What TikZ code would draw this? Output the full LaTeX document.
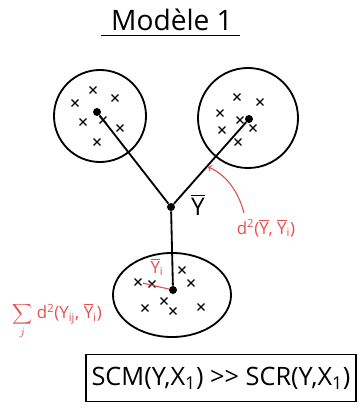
\documentclass[tikz,border=0pt]{standalone}
\usepackage{fontspec}
\setmainfont{Open Sans}
\usetikzlibrary{shapes.geometric,shapes.misc}
\definecolor{inkred}{RGB}{232,78,78}
\newcommand{\ymean}{$\overline{\mbox{Y}}$}
\tikzset{
  dot/.style={circle, fill=black, inner sep=0pt, minimum size=0.2cm},
  cluster/.style={circle, draw, line width=1.3pt, inner sep=0pt},
  pt/.style={cross out, draw, line width=0.9pt, inner sep=0pt, minimum size=0.14cm},
  link/.style={line width=1.3pt},
  dev/.style={inkred, line width=0.8pt, shorten >=1pt},
}

\begin{document}
\begin{tikzpicture}[x=0.025cm, y=-0.025cm]
  \useasboundingbox (0,0) rectangle (359,411);
  % title
  \node[inner sep=1pt] (title) at (172,20) {\fontsize{20}{24}\selectfont Modèle 1};
  \draw[line width=1.2pt] ([xshift=-6pt,yshift=-2pt]title.south west) -- ([xshift=4pt,yshift=-2pt]title.south east);

  % groups
  \node[cluster, minimum size=2.3cm] (c1) at (100,116) {};
  \node[cluster, minimum size=2.5cm] (c2) at (248,118) {};
  \node[cluster, ellipse, minimum width=2.95cm, minimum height=2.1cm] (c3) at (172,295) {};

  \node[dot] (g1) at (97,112) {};
  \node[dot] (g2) at (249,119) {};
  \node[dot] (g3) at (173,290) {};
  \node[dot] (y) at (171,207) {};
  \node (ylab) at (198,205) {\LARGE\ymean};

  \draw[link] (g1) -- (y) -- (g2);
  \draw[link] (y) -- (g3);

  % individuals
  \foreach \n/\x/\y in {a1/93/90, a2/115/98, a3/75/103, a4/83/122, a5/103/120, a6/120/128, a7/97/142,
                        b1/237/97, b2/260/102, b3/220/113, b4/240/120, b5/253/128, b6/222/130, b7/238/142,
                        e1/138/282, e2/152/284, e3/182/270, e4/191/283, e5/145/308, e6/164/301, e7/173/311, e8/201/307}
    \node[pt] (\n) at (\x,\y) {};

  % within deviations
  \foreach \n in {e1,...,e8}
    \draw[dev] (g3) -- (\n);
  \node[inkred] (yi) at (157,267) {\large\ymean\textsubscript{i}};
  \node[inkred] (ssq) at (57,321) {\large$\displaystyle\sum_j$ d\textsuperscript{2}(Y\textsubscript{ij}, \ymean\textsubscript{i})};

  % between deviation
  \node[inkred] (dist) at (266,228) {\large d\textsuperscript{2}(\ymean, \ymean\textsubscript{i})};
  \coordinate (tail) at (244,213);
  \coordinate (hit) at (208,167);
  \draw[inkred, line width=0.8pt, ->] (tail) .. controls (238,190) and (225,174) .. (hit);

  % result
  \node[draw, line width=1.1pt, minimum width=6.75cm, minimum height=1.18cm] (res) at (221,378)
    {\fontsize{18}{21}\selectfont SCM(Y,X\textsubscript{1}) >{}> SCR(Y,X\textsubscript{1})};
\end{tikzpicture}
\end{document}
